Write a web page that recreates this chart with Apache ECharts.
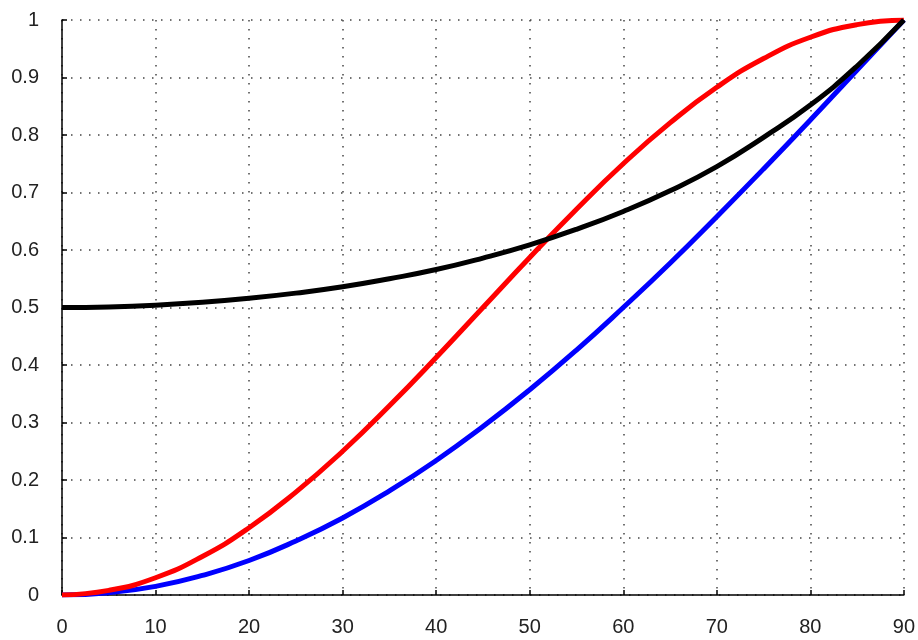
<!DOCTYPE html>
<html>
<head>
<meta charset="utf-8">
<script src="https://cdn.jsdelivr.net/npm/echarts@6/dist/echarts.min.js"></script>
<style>html,body{margin:0;padding:0;background:#fff}#c{width:918px;height:640px}</style>
</head>
<body>
<div id="c"></div>
<script>
const xs = [0,5,10,15,20,25,30,35,40,45,50,55,60,65,70,75,80,85,90];
const red = [0,0.008,0.03,0.067,0.117,0.179,0.25,0.329,0.413,0.5,0.587,0.671,0.75,0.821,0.883,0.933,0.97,0.992,1];
const blue = [0,0.004,0.015,0.034,0.06,0.094,0.134,0.181,0.234,0.293,0.357,0.426,0.5,0.577,0.658,0.741,0.826,0.913,1];
const black = [0.5,0.501,0.504,0.509,0.516,0.525,0.536,0.55,0.566,0.586,0.609,0.636,0.667,0.703,0.745,0.796,0.852,0.92,1];

const pairs = arr => xs.map((x,i)=>[x, arr[i]]);
const chart = echarts.init(document.getElementById('c'));
const gridLine = {show:true, lineStyle:{color:'#444', width:1.5, type:[1.5,7.5]}};
chart.setOption({
  animation:false,
  grid:{left:62, right:13, top:20, bottom:45},
  xAxis:{type:'value', min:0, max:90, interval:10,
    axisLine:{show:true, onZero:false, lineStyle:{color:'#000', width:1.5}},
    axisTick:{show:true, inside:true, length:5, lineStyle:{color:'#000', width:1.5}},
    axisLabel:{color:'#222', fontSize:20, fontFamily:'Liberation Sans, Arial', margin:22},
    splitLine:gridLine},
  yAxis:{type:'value', min:0, max:1, interval:0.1,
    axisLine:{show:true, lineStyle:{color:'#000', width:1.5}},
    axisTick:{show:true, inside:true, length:5, lineStyle:{color:'#000', width:1.5}},
    axisLabel:{color:'#222', fontSize:20, fontFamily:'Liberation Sans, Arial', margin:23},
    splitLine:gridLine},
  series:[
    {type:'line', data:pairs(blue), smooth:true, symbol:'none', lineStyle:{color:'#0000ff', width:5}},
    {type:'line', data:pairs(red), smooth:true, symbol:'none', lineStyle:{color:'#ff0000', width:5}},
    {type:'line', data:pairs(black), smooth:true, symbol:'none', lineStyle:{color:'#000000', width:5}}
  ]
});
</script>
</body>
</html>
